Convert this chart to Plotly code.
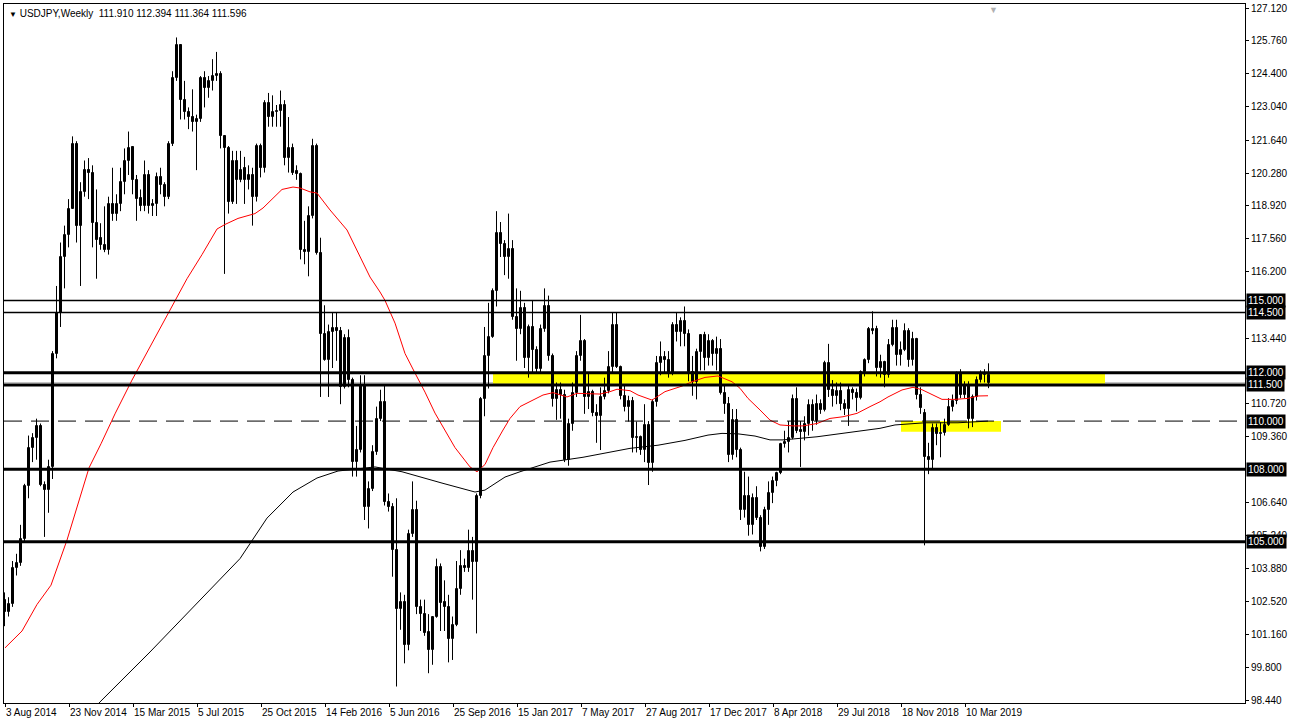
import numpy as np
import pandas as pd
import plotly.graph_objects as go

# ---------------- data ----------------
start_week = "2014-08-03"

opens = [102.6,102.1,102.4,103.9,104.1,105.1,107.3,108.9,109.3,109.8,
         107.35,107.15,108.1,112.8,114.5,116.8,117.7,118.8,121.5,118.1,
         119.5,120.4,120.3,118.2,117.6,117.3,117.1,119.0,118.6,119.0,
         119.9,120.8,121.35,120.0,119.25,118.9,120.2,118.9,119.0,120.1,
         119.8,119.3,121.5,124.2,125.6,123.3,122.8,122.6,122.4,122.5,
         124.2,123.8,124.1,124.3,124.4,121.8,121.3,119.1,120.8,120.0,
         120.5,120.0,120.2,119.3,121.4,120.5,123.2,122.6,122.8,122.85,
         123.1,120.9,121.3,120.35,120.25,117.1,117.0,118.5,121.4,116.95,
         113.6,112.55,113.7,113.85,113.75,111.4,113.45,111.7,108.3,108.8,
         111.5,106.45,107.2,108.7,110.1,110.8,106.65,106.45,104.65,102.2,
         102.5,100.7,105.3,106.3,102.3,102.0,101.25,100.5,101.9,103.95,
         102.5,102.3,100.95,101.55,103.05,104.0,103.9,104.6,104.15,106.9,
         110.9,112.7,113.5,115.4,117.8,117.35,116.8,117.15,114.3,113.8,
         114.7,112.6,113.9,112.95,112.15,113.8,114.75,112.7,110.9,111.3,
         111.1,108.4,109.9,111.15,112.7,113.3,111.0,111.2,110.35,110.2,
         111.0,111.25,112.25,114.0,112.25,111.05,110.6,110.85,109.3,109.35,
         108.8,109.84,108.25,110.8,112.4,112.65,112.55,111.95,114.0,113.7,
         114.15,113.6,112.05,111.6,112.85,113.55,112.6,113.3,112.8,113.0,
         111.15,110.7,108.6,110.05,108.8,106.3,106.9,105.7,106.8,106.0,
         104.8,106.3,107.0,107.5,107.85,109.05,109.15,109.3,110.9,109.65,
         109.55,109.9,110.65,110.0,110.7,110.45,112.4,111.3,111.05,111.25,
         110.7,110.5,111.3,111.15,110.95,112.05,112.55,113.75,113.8,112.2,
         112.45,111.9,113.15,113.85,112.75,112.95,113.75,112.55,113.4,111.1,
         110.35,108.5,108.4,109.7,109.45,109.5,109.85,110.6,110.85,111.95,
         111.1,111.45,110.1,111.0,111.7,111.9,111.91]

highs = [102.9,102.7,104.2,104.5,105.7,107.4,109.4,109.5,110.1,109.9,
         107.5,108.4,112.9,115.6,117.4,118.1,119.2,121.8,121.6,119.9,
         120.8,120.9,120.6,119.6,118.2,118.9,119.3,120.5,119.4,120.5,
         121.3,122.0,121.4,120.2,119.6,120.8,120.4,119.2,120.3,120.5,
         119.9,121.6,124.5,125.9,125.6,124.1,123.0,123.75,122.7,124.3,
         124.5,124.3,125.0,125.3,124.5,121.8,121.4,121.2,121.2,121.2,
         120.95,120.6,120.5,121.5,121.5,123.3,123.6,123.5,123.1,123.7,
         123.3,122.6,121.5,120.6,120.3,118.3,118.9,121.7,121.5,117.6,
         114.8,114.0,114.5,114.5,113.9,113.6,113.8,111.8,109.8,111.9,
         111.9,107.5,109.0,110.6,111.3,111.5,107.0,106.6,106.8,102.9,
         102.8,105.5,107.5,106.7,102.6,102.6,102.0,101.9,104.3,104.1,
         103.4,102.8,101.9,104.2,104.65,104.3,105.5,105.2,107.0,111.0,
         113.9,114.9,115.5,118.7,118.25,117.5,118.6,117.5,115.5,115.4,
         114.9,114.0,115.0,113.1,114.0,115.5,115.2,112.8,111.6,111.6,
         111.3,110.1,111.6,112.9,114.4,113.4,112.0,111.3,110.7,111.4,
         111.8,112.9,114.5,114.5,112.3,111.5,111.05,111.0,109.98,109.4,
         110.7,110.0,110.9,112.7,113.3,112.9,112.9,114.1,114.5,114.3,
         114.75,113.8,112.7,113.0,113.6,113.7,113.6,113.4,113.5,113.4,
         111.5,111.0,110.5,110.5,108.9,107.9,107.7,107.0,107.3,106.1,
         106.45,107.5,107.7,107.9,109.1,109.6,110.0,111.1,111.4,110.0,
         110.2,110.9,110.9,111.1,110.9,112.5,113.2,111.7,111.6,111.6,
         110.9,111.5,111.4,111.35,112.1,112.6,113.9,114.55,113.95,112.75,
         112.5,113.4,114.2,114.2,113.3,114.05,113.85,113.7,113.45,111.4,
         110.5,109.1,109.9,109.9,109.95,110.1,110.95,111.1,112.05,112.15,
         111.65,111.65,111.1,111.85,112.1,112.15,112.394]

lows = [101.5,101.9,102.3,103.6,104.0,105.0,106.8,108.3,108.4,107.3,
        105.2,106.2,107.6,112.6,113.9,115.5,117.2,118.8,117.4,115.6,
        119.3,119.2,117.2,115.9,117.1,117.0,116.9,118.3,118.3,118.7,
        119.4,120.2,119.4,118.3,118.7,118.7,118.6,118.5,118.5,119.4,
        118.9,119.2,121.4,124.1,122.5,122.5,122.1,122.0,120.4,122.4,
        123.0,123.4,123.7,124.1,121.3,116.1,118.6,119.0,119.0,119.9,
        119.0,119.6,118.1,119.1,120.1,120.3,122.2,122.2,122.2,122.2,
        120.6,120.3,120.2,120.0,116.7,116.5,116.0,118.4,116.9,111.0,
        112.5,111.0,112.2,112.5,110.7,111.35,111.4,107.7,107.7,108.7,
        105.9,105.55,107.1,108.6,110.0,106.5,106.25,103.55,99.0,101.35,
        99.96,100.5,105.2,102.0,101.3,101.1,99.55,99.9,101.85,101.3,
        101.3,100.0,100.1,101.5,102.8,103.75,103.75,102.6,101.2,106.8,
        110.2,111.35,113.45,114.75,116.8,116.05,115.9,114.2,112.5,113.6,
        112.2,111.8,112.0,112.0,112.0,113.7,112.5,110.6,110.05,110.1,
        108.3,108.15,109.6,111.0,112.5,110.3,110.5,110.2,109.1,108.8,
        110.9,111.15,112.0,112.2,110.9,110.4,109.98,108.7,108.7,108.6,
        108.3,107.35,107.9,110.6,111.9,112.0,111.8,111.9,113.3,113.1,
        113.1,111.65,111.05,110.9,112.1,112.1,112.3,112.3,112.1,111.1,
        110.3,108.3,108.4,108.5,105.9,106.0,105.25,105.3,105.9,104.6,
        104.7,105.7,106.6,107.3,107.8,108.9,108.7,109.25,109.5,108.1,
        109.2,109.4,109.6,109.85,110.3,110.4,111.0,110.6,110.7,110.45,
        110.25,109.8,110.9,110.4,110.9,111.85,112.4,113.6,111.85,111.8,
        111.4,111.8,113.1,112.3,112.3,112.9,112.25,112.3,110.9,110.3,
        104.85,107.8,108.0,109.0,108.5,109.4,109.8,110.4,110.7,110.95,
        110.95,109.7,109.75,110.85,111.6,111.6,111.364]

closes = [102.1,102.4,103.9,104.1,105.1,107.3,108.9,109.3,109.8,107.35,
          107.15,108.1,112.8,114.5,116.8,117.7,118.8,121.5,118.1,119.5,
          120.4,120.3,118.2,117.5,117.3,117.1,119.0,118.6,119.0,119.9,
          120.8,121.3,120.0,119.2,118.9,120.2,118.9,119.0,120.1,119.8,
          119.3,121.5,124.2,125.6,123.3,122.8,122.6,122.4,122.5,124.2,
          123.8,124.1,124.3,124.4,121.8,121.3,119.1,120.8,120.0,120.4,
          120.0,120.2,119.3,121.4,120.5,123.2,122.6,122.8,122.85,123.1,
          120.9,121.3,120.3,120.25,117.1,117.0,118.5,121.4,116.95,113.6,
          112.55,113.7,113.85,113.75,111.4,113.45,111.7,108.3,108.8,111.5,
          106.45,107.2,108.7,110.1,110.8,106.65,106.45,104.65,102.2,102.5,
          100.7,105.3,106.3,102.3,102.0,101.2,100.5,101.9,103.95,102.45,
          102.3,100.95,101.55,103.05,104.0,103.9,104.6,104.15,106.9,110.9,
          112.7,113.5,115.4,117.8,117.35,116.8,117.15,114.3,113.8,114.7,
          112.6,113.9,112.95,112.15,113.8,114.75,112.7,110.9,111.3,111.1,
          108.4,109.9,111.15,112.7,113.3,111.0,111.2,110.35,110.2,111.0,
          111.25,112.25,114.0,112.25,111.05,110.6,110.85,109.3,109.35,108.8,
          109.84,108.25,110.8,112.4,112.65,112.55,111.95,114.0,113.7,114.15,
          113.6,112.05,111.6,112.85,113.55,112.6,113.3,112.8,113.0,111.15,
          110.7,108.6,110.05,108.8,106.3,106.9,105.7,106.8,106.0,104.8,
          106.3,107.0,107.5,107.85,109.05,109.15,109.3,110.9,109.6,109.55,
          109.9,110.65,110.0,110.7,110.45,112.4,111.3,111.05,111.25,110.7,
          110.5,111.3,111.15,110.95,112.05,112.55,113.8,113.8,112.2,112.45,
          111.9,113.15,113.85,112.75,112.95,113.75,112.55,113.4,111.1,110.55,
          108.5,108.4,109.7,109.45,109.5,109.85,110.6,110.85,111.95,111.1,
          111.45,110.1,111.0,111.7,112.0,111.95,111.596]

# moving averages: (week offset from first bar, price)
ma_red_week = [0,4.25,8,11.5,15.5,17.25,21,24,27.5,31.75,38.75,45.5,49.25,53,55,58.25,
               62.5,64.5,69.25,72,73.75,76.25,78,81.25,85.5,88.75,91.25,93.75,95,97.5,
               100,102.5,105,107.5,110,112.5,116.25,118,120,122,124.5,126.25,128.75,132,
               134.5,137,140.5,143,145.5,148.75,151.25,153,156.25,158.25,161.75,165,
               169.25,171.75,175,178.25,181.75,183.75,185.75,187.5,188.75,191.25,193.75,
               197,199.5,203,206.25,209.5,213,216.25,218.75,220.75,224.25,227,229.25,
               231.75,234.25,237.5,240.75,243.25,245.75]
ma_red_val = [100.6,101.3,102.4,103.2,105.07,106.0,108.06,109.06,110.3,111.7,113.85,115.9,
              116.9,117.96,118.15,118.4,118.6,118.83,119.6,119.7,119.66,119.5,119.45,118.75,
              117.92,116.8,115.97,115.35,115.0,114.06,112.8,111.99,111.2,110.33,109.63,108.9,
              108.1,107.9,108.2,108.9,109.63,110.11,110.6,110.87,111.08,111.18,111.0,111.15,
              111.15,111.12,111.22,111.32,111.26,111.08,110.87,111.22,111.45,111.63,111.81,
              111.87,111.63,111.36,110.94,110.67,110.46,110.04,109.84,109.8,109.8,109.9,
              110.11,110.18,110.32,110.6,110.8,111.0,111.29,111.4,111.3,111.1,110.9,110.9,
              110.94,111.04,111.05]
ma_black_week = [20,23.75,36.25,48.75,58.75,65.5,72,78,83.25,92.5,99.25,109.25,117.5,120,
                 125,128.75,136.25,144.5,156.25,163.25,170,175.75,179.25,183.25,187.5,
                 191.25,194.5,203,211.25,218.75,222.5,230,238.25,245.75]
ma_black_val = [97.7,98.36,100.43,102.58,104.3,105.98,107.06,107.64,107.93,108.1,107.9,
                107.43,107.06,107.14,107.68,107.9,108.3,108.5,108.87,109.0,109.2,109.42,
                109.49,109.47,109.38,109.22,109.22,109.35,109.52,109.7,109.84,109.93,
                109.93,110.0]

levels = [115.0, 114.5, 112.0, 111.5, 110.0, 108.0, 105.0]
level_labels = ["115.000", "114.500", "112.000", "111.500", "110.000", "108.000", "105.000"]
bid_price = 111.596

# yellow zones: (first week, last week) and (upper price, lower price)
zone_weeks = [(122, 275), (224, 249)]
zone_prices = [(112.0, 111.55), (110.0, 109.56)]

# price-scale labels that are visible (the others sit under the level boxes)
price_ticks = [127.12,125.76,124.40,123.04,121.64,120.28,118.92,117.56,116.20,
               113.44,110.72,109.36,106.64,105.24,103.88,102.52,101.16,
               99.80,98.44]
date_tick_weeks = list(range(0, 241, 16))

title_text = "USDJPY,Weekly  111.910 112.394 111.364 111.596"

# ---------------- figure ----------------
base = pd.Timestamp(start_week)
WEEK_MS = 7 * 86400000


def wk(off):
    return base + pd.to_timedelta(np.asarray(off, dtype=float) * 7, unit="D")


n = len(closes)
idx = np.arange(n)
dates = wk(idx)
o = np.array(opens)
c = np.array(closes)
hi = np.array(highs)
lo = np.array(lows)
up = c >= o
body_lo = np.minimum(o, c)
body_h = np.maximum(np.abs(c - o), 0.02)

FONT = "Liberation Sans"

fig = go.Figure()

# wicks (drawn through the centre pixel column of each body)
wick_x, wick_y = [], []
for t, h_, l_ in zip(wk(idx - 0.125), hi, lo):
    wick_x += [t, t, None]
    wick_y += [l_, h_, None]
fig.add_trace(go.Scatter(x=wick_x, y=wick_y, mode="lines",
                         line=dict(color="black", width=1), showlegend=False,
                         hoverinfo="skip"))

# candle bodies
for mask, fill in ((up, "white"), (~up, "black")):
    fig.add_trace(go.Bar(
        x=dates[mask], y=body_h[mask], base=body_lo[mask],
        width=0.5 * WEEK_MS,
        marker=dict(color=fill, line=dict(color="black", width=1)),
        showlegend=False, hoverinfo="skip",
    ))

fig.add_trace(go.Scatter(x=wk(ma_red_week), y=ma_red_val, mode="lines",
                         line=dict(color="#ff0000", width=1), showlegend=False,
                         hoverinfo="skip"))
fig.add_trace(go.Scatter(x=wk(ma_black_week), y=ma_black_val, mode="lines",
                         line=dict(color="black", width=1), showlegend=False,
                         hoverinfo="skip"))

shapes = []
for (w0, w1), (p_hi, p_lo) in zip(zone_weeks, zone_prices):
    shapes.append(dict(type="rect", xref="x", yref="y", x0=wk(w0), x1=wk(w1),
                       y0=p_lo, y1=p_hi, fillcolor="#ffff00", line=dict(width=0),
                       layer="below"))
shapes.append(dict(type="line", xref="paper", yref="y", x0=0, x1=1,
                   y0=bid_price, y1=bid_price, line=dict(color="#c0c0c0", width=1),
                   layer="below"))
level_widths = [1.6, 1.6, 3, 3, 1, 3, 3]
for lv, lw in zip(levels, level_widths):
    dash = "18px,9px" if lv == 110.0 else "solid"
    shapes.append(dict(type="line", xref="paper", yref="y", x0=0, x1=1,
                       y0=lv, y1=lv, line=dict(color="black", width=lw, dash=dash),
                       layer="above"))

annotations = []
for lv, txt in zip(levels, level_labels):
    annotations.append(dict(xref="paper", yref="y", x=1, y=lv, xanchor="left",
                            yanchor="middle", xshift=1, text=txt, showarrow=False,
                            bgcolor="black", borderpad=1,
                            font=dict(family=FONT, size=10, color="white")))
annotations.append(dict(xref="paper", yref="paper", x=0, y=1, xanchor="left",
                        yanchor="top", xshift=3, yshift=-2, showarrow=False,
                        text="<span style='font-size:8px'>▼</span> " + title_text,
                        font=dict(family=FONT, size=10, color="black")))
annotations.append(dict(xref="x", yref="paper", x=wk(247), y=1, xanchor="center",
                        yanchor="top", yshift=1, showarrow=False, text="▼",
                        font=dict(family=FONT, size=9, color="#b0b0b0")))

fig.update_layout(
    width=1292, height=726,
    margin=dict(l=4, r=47, t=4, b=23, pad=0),
    paper_bgcolor="white", plot_bgcolor="white",
    shapes=shapes, annotations=annotations,
    showlegend=False,
    barmode="overlay", bargap=0, bargroupgap=0,
    xaxis=dict(
        type="date",
        range=[wk(-0.25), wk(310)],
        tickvals=list(wk(date_tick_weeks)),
        ticktext=[f"{d.day} {d.strftime('%b %Y')}" for d in wk(date_tick_weeks)],
        ticklabelposition="outside right",
        tickangle=0, automargin=False,
        ticks="outside", ticklen=3, tickcolor="black",
        showgrid=False, zeroline=False,
        showline=True, linecolor="black", linewidth=1, mirror=True,
        tickfont=dict(family=FONT, size=10, color="black"),
        fixedrange=True,
    ),
    yaxis=dict(
        side="right",
        range=[98.316, 127.286],
        tickvals=price_ticks,
        ticktext=[f"{v:.3f}" for v in price_ticks],
        automargin=False,
        ticks="outside", ticklen=3, tickcolor="black",
        showgrid=False, zeroline=False,
        showline=True, linecolor="black", linewidth=1, mirror=True,
        tickfont=dict(family=FONT, size=10, color="black"),
        fixedrange=True,
    ),
)

fig.write_html(
    "out.html",
    config={"displayModeBar": False},
    post_script="document.body.style.margin='0';document.body.style.overflow='hidden';",
)
